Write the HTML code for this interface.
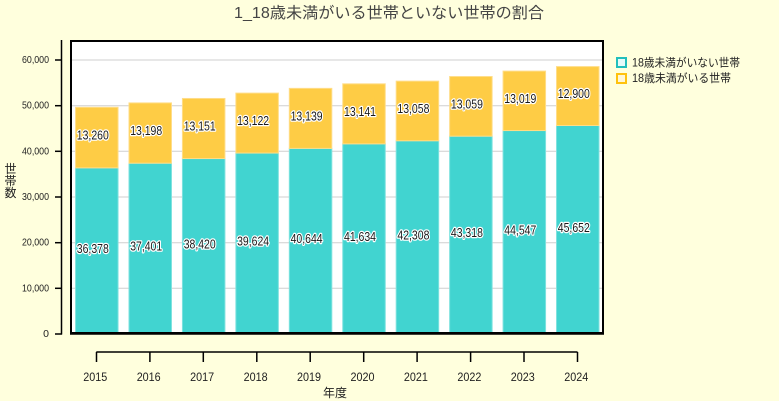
<!DOCTYPE html>
<html><head><meta charset="utf-8"><style>
html,body{margin:0;padding:0;background:#FFFFDD;}
svg{display:block;}
text{font-family:"Liberation Sans","Noto Sans CJK JP",sans-serif;}
.v{font-size:13px;fill:#1a1a1a;stroke:#fff;stroke-width:2.6px;paint-order:stroke;stroke-linejoin:round;}
.yt{font-size:10.5px;fill:#222;}
.xt{font-size:12px;fill:#222;}
</style></head><body>
<svg width="779" height="401" viewBox="0 0 779 401" xmlns="http://www.w3.org/2000/svg">
<rect x="0" y="0" width="779" height="401" fill="#FFFFDD"/>
<text x="389" y="18" text-anchor="middle" font-size="15.5" fill="#444" textLength="310" lengthAdjust="spacingAndGlyphs">1_18歳未満がいる世帯といない世帯の割合</text>
<!-- plot area -->
<rect x="71" y="41" width="532" height="292" fill="#fff"/>
<g stroke="#cfcfcf" stroke-width="1">
<line x1="71" y1="288.3" x2="603" y2="288.3"/>
<line x1="71" y1="242.7" x2="603" y2="242.7"/>
<line x1="71" y1="197" x2="603" y2="197"/>
<line x1="71" y1="151.3" x2="603" y2="151.3"/>
<line x1="71" y1="105.7" x2="603" y2="105.7"/>
<line x1="71" y1="60" x2="603" y2="60"/>
</g>
<!-- bars -->
<g stroke-width="1">
<g fill="#41D4D0" stroke="#7FE2DF">
<rect x="75.55" y="167.86" width="42.5" height="166.14"/>
<rect x="128.99" y="163.19" width="42.5" height="170.81"/>
<rect x="182.43" y="158.54" width="42.5" height="175.46"/>
<rect x="235.87" y="153.04" width="42.5" height="180.96"/>
<rect x="289.31" y="148.38" width="42.5" height="185.62"/>
<rect x="342.75" y="143.86" width="42.5" height="190.14"/>
<rect x="396.19" y="140.78" width="42.5" height="193.22"/>
<rect x="449.63" y="136.17" width="42.5" height="197.83"/>
<rect x="503.07" y="130.55" width="42.5" height="203.45"/>
<rect x="556.51" y="125.51" width="42.5" height="208.49"/>
</g>
<g fill="#FECC45" stroke="#FFDD88">
<rect x="75.55" y="107.3" width="42.5" height="60.56"/>
<rect x="128.99" y="102.91" width="42.5" height="60.28"/>
<rect x="182.43" y="98.48" width="42.5" height="60.06"/>
<rect x="235.87" y="93.11" width="42.5" height="59.93"/>
<rect x="289.31" y="88.37" width="42.5" height="60.01"/>
<rect x="342.75" y="83.84" width="42.5" height="60.02"/>
<rect x="396.19" y="81.14" width="42.5" height="59.64"/>
<rect x="449.63" y="76.53" width="42.5" height="59.64"/>
<rect x="503.07" y="71.10" width="42.5" height="59.45"/>
<rect x="556.51" y="66.59" width="42.5" height="58.92"/>
</g>
</g>
<!-- frame -->
<rect x="71" y="41" width="532" height="292" fill="none" stroke="#000" stroke-width="2"/>
<line x1="70" y1="333.5" x2="604" y2="333.5" stroke="#000" stroke-width="2.5"/>
<!-- value labels -->
<g class="v" text-anchor="middle" dominant-baseline="central">
<text x="92.8" y="248.4" textLength="32" lengthAdjust="spacingAndGlyphs">36,378</text>
<text x="146.2" y="246.1" textLength="32" lengthAdjust="spacingAndGlyphs">37,401</text>
<text x="199.7" y="243.8" textLength="32" lengthAdjust="spacingAndGlyphs">38,420</text>
<text x="253.1" y="241.0" textLength="32" lengthAdjust="spacingAndGlyphs">39,624</text>
<text x="306.6" y="238.7" textLength="32" lengthAdjust="spacingAndGlyphs">40,644</text>
<text x="360.0" y="236.4" textLength="32" lengthAdjust="spacingAndGlyphs">41,634</text>
<text x="413.4" y="234.9" textLength="32" lengthAdjust="spacingAndGlyphs">42,308</text>
<text x="466.9" y="232.6" textLength="32" lengthAdjust="spacingAndGlyphs">43,318</text>
<text x="520.3" y="229.8" textLength="32" lengthAdjust="spacingAndGlyphs">44,547</text>
<text x="573.8" y="227.3" textLength="32" lengthAdjust="spacingAndGlyphs">45,652</text>
<text x="92.8" y="135.1" textLength="32" lengthAdjust="spacingAndGlyphs">13,260</text>
<text x="146.2" y="130.6" textLength="32" lengthAdjust="spacingAndGlyphs">13,198</text>
<text x="199.7" y="126.0" textLength="32" lengthAdjust="spacingAndGlyphs">13,151</text>
<text x="253.1" y="120.6" textLength="32" lengthAdjust="spacingAndGlyphs">13,122</text>
<text x="306.6" y="115.9" textLength="32" lengthAdjust="spacingAndGlyphs">13,139</text>
<text x="360.0" y="111.4" textLength="32" lengthAdjust="spacingAndGlyphs">13,141</text>
<text x="413.4" y="108.5" textLength="32" lengthAdjust="spacingAndGlyphs">13,058</text>
<text x="466.9" y="103.9" textLength="32" lengthAdjust="spacingAndGlyphs">13,059</text>
<text x="520.3" y="98.3" textLength="32" lengthAdjust="spacingAndGlyphs">13,019</text>
<text x="573.8" y="93.6" textLength="32" lengthAdjust="spacingAndGlyphs">12,900</text>
</g>
<!-- y axis -->
<g stroke="#000" stroke-width="1.5">
<line x1="61.5" y1="40" x2="61.5" y2="334.5"/>
<line x1="55" y1="334" x2="62" y2="334"/>
<line x1="55" y1="288.3" x2="62" y2="288.3"/>
<line x1="55" y1="242.7" x2="62" y2="242.7"/>
<line x1="55" y1="197" x2="62" y2="197"/>
<line x1="55" y1="151.3" x2="62" y2="151.3"/>
<line x1="55" y1="105.7" x2="62" y2="105.7"/>
<line x1="55" y1="60" x2="62" y2="60"/>
</g>
<g class="yt" text-anchor="end" dominant-baseline="central">
<text x="49" y="334">0</text>
<text x="49" y="288.3" textLength="27" lengthAdjust="spacingAndGlyphs">10,000</text>
<text x="49" y="242.7" textLength="27" lengthAdjust="spacingAndGlyphs">20,000</text>
<text x="49" y="197" textLength="27" lengthAdjust="spacingAndGlyphs">30,000</text>
<text x="49" y="151.3" textLength="27" lengthAdjust="spacingAndGlyphs">40,000</text>
<text x="49" y="105.7" textLength="27" lengthAdjust="spacingAndGlyphs">50,000</text>
<text x="49" y="60" textLength="27" lengthAdjust="spacingAndGlyphs">60,000</text>
</g>
<g font-size="12" fill="#222" text-anchor="middle" dominant-baseline="central">
<text x="10.5" y="169">世</text>
<text x="10.5" y="181">帯</text>
<text x="10.5" y="193">数</text>
</g>
<!-- x axis -->
<g stroke="#000" stroke-width="1.5">
<line x1="96.3" y1="352" x2="577.5" y2="352"/>
<line x1="96.5" y1="352" x2="96.5" y2="362"/>
<line x1="149.9" y1="352" x2="149.9" y2="362"/>
<line x1="203.3" y1="352" x2="203.3" y2="362"/>
<line x1="256.8" y1="352" x2="256.8" y2="362"/>
<line x1="310.2" y1="352" x2="310.2" y2="362"/>
<line x1="363.7" y1="352" x2="363.7" y2="362"/>
<line x1="417.1" y1="352" x2="417.1" y2="362"/>
<line x1="470.6" y1="352" x2="470.6" y2="362"/>
<line x1="524.0" y1="352" x2="524.0" y2="362"/>
<line x1="577.5" y1="352" x2="577.5" y2="362"/>
</g>
<g class="xt" text-anchor="middle" dominant-baseline="central">
<text x="95.3" y="377" textLength="24" lengthAdjust="spacingAndGlyphs">2015</text>
<text x="148.7" y="377" textLength="24" lengthAdjust="spacingAndGlyphs">2016</text>
<text x="202.1" y="377" textLength="24" lengthAdjust="spacingAndGlyphs">2017</text>
<text x="255.6" y="377" textLength="24" lengthAdjust="spacingAndGlyphs">2018</text>
<text x="309.0" y="377" textLength="24" lengthAdjust="spacingAndGlyphs">2019</text>
<text x="362.5" y="377" textLength="24" lengthAdjust="spacingAndGlyphs">2020</text>
<text x="415.9" y="377" textLength="24" lengthAdjust="spacingAndGlyphs">2021</text>
<text x="469.4" y="377" textLength="24" lengthAdjust="spacingAndGlyphs">2022</text>
<text x="522.8" y="377" textLength="24" lengthAdjust="spacingAndGlyphs">2023</text>
<text x="576.3" y="377" textLength="24" lengthAdjust="spacingAndGlyphs">2024</text>
</g>
<text x="335" y="393" font-size="12" fill="#222" text-anchor="middle" dominant-baseline="central">年度</text>
<!-- legend -->
<rect x="617" y="58" width="9" height="9" fill="#E6FAF9" stroke="#22BFBC" stroke-width="2"/>
<rect x="617" y="74" width="9" height="9" fill="#FFF6D6" stroke="#FFC20E" stroke-width="2"/>
<text x="632" y="63.3" font-size="11.5" fill="#222" dominant-baseline="central" textLength="108" lengthAdjust="spacingAndGlyphs">18歳未満がいない世帯</text>
<text x="632" y="79" font-size="11.5" fill="#222" dominant-baseline="central" textLength="99" lengthAdjust="spacingAndGlyphs">18歳未満がいる世帯</text>
</svg>
</body></html>
